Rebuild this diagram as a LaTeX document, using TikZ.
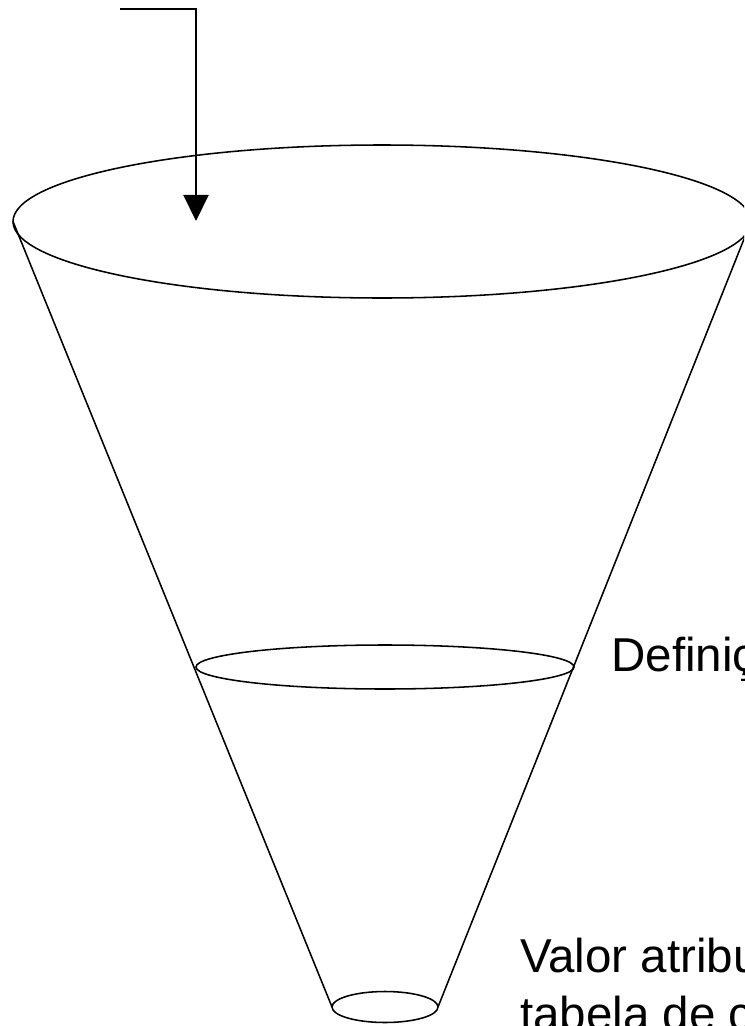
\documentclass[tikz,border=0pt]{standalone}
\usepackage{fontspec}
\setmainfont{Liberation Sans}
\usetikzlibrary{positioning,arrows.meta,shapes.geometric}

\begin{document}
\begin{tikzpicture}[
  x=0.025cm, y=-0.025cm,
  rim/.style={draw, ellipse, inner sep=0pt, outer sep=0pt, line width=1.1pt},
  side/.style={line width=1.1pt},
  arrow/.style={-{Triangle[width=0.625cm, length=0.65cm]}, line width=1.5pt},
  lbl/.style={anchor=base west, inner sep=0pt, font=\fontsize{33.8}{40}\selectfont}
]

%% ── Frame (same size as the image) ───────────────────────────────────
\useasboundingbox (0,0) rectangle (744,1026);
\clip (0,0) rectangle (744,1026);

%% ── Funnel rims ──────────────────────────────────────────────────────
\node[rim, minimum width=738*0.025cm, minimum height=153*0.025cm] (top) at (382,221.5) {};
\node[rim, minimum width=378*0.025cm, minimum height=44*0.025cm]  (mid) at (385,667) {};
\node[rim, minimum width=106*0.025cm, minimum height=31*0.025cm]  (bot) at (385,1007) {};

%% ── Funnel sides ─────────────────────────────────────────────────────
\draw[side] (top.west) -- (bot.west);
\draw[side] (top.east) -- (bot.east);

%% ── Input arrow ──────────────────────────────────────────────────────
\coordinate (in) at (120,9);
\coordinate (drop) at (196,221);
\draw[arrow] (in) -| (drop);

%% ── Labels ───────────────────────────────────────────────────────────
\node[lbl] (def) at (611,671.7) {Definiç};
\node[lbl] (val) at (520,972.7) {Valor atribu};
\node[lbl] (tab) at (520,1030) {tabela de c};

\end{tikzpicture}
\end{document}
